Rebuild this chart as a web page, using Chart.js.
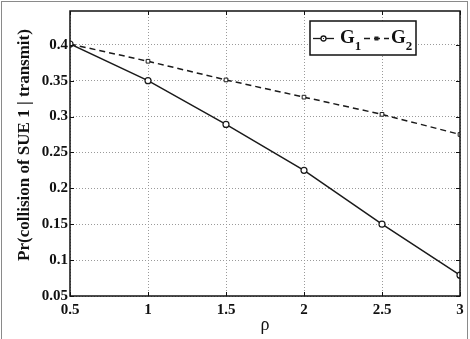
<!DOCTYPE html>
<html>
<head>
<meta charset="utf-8">
<script src="https://cdn.jsdelivr.net/npm/chart.js@4"></script>
<style>
  body { margin: 0; background: #fff; }
  #wrap { width: 470px; height: 339px; }
</style>
</head>
<body>
<div id="wrap"><canvas id="myChart" width="470" height="339"></canvas></div>
<script>
// data
const rho = [0.5, 1, 1.5, 2, 2.5, 3];
const g1 = [0.401, 0.350, 0.289, 0.225, 0.150, 0.079];
const g2 = [0.401, 0.377, 0.351, 0.327, 0.303, 0.275];
const xTicks = [0.5, 1, 1.5, 2, 2.5, 3];
const yTicks = [0.05, 0.1, 0.15, 0.2, 0.25, 0.3, 0.35, 0.4];
const seriesNames = ['G', 'G'];
const seriesSubs = ['1', '2'];
const yTitle = 'Pr(collision of SUE 1 | transmit)';

const serif = '"Liberation Serif", "DejaVu Serif", serif';

const frame = {
    id: 'frame',
    beforeDraw(chart) {
        const ctx = chart.ctx;
        ctx.save();
        ctx.fillStyle = '#fff';
        ctx.fillRect(0, 0, chart.width, chart.height);
        ctx.strokeStyle = '#8a8a8a';
        ctx.lineWidth = 1;
        ctx.strokeRect(1.5, 1.5, 466, 350);
        ctx.restore();
    },
    afterDatasetsDraw(chart) {
        const {ctx, chartArea: a, scales: {x, y}} = chart;
        ctx.save();
        ctx.strokeStyle = '#111';
        ctx.lineWidth = 1.5;
        ctx.strokeRect(a.left, a.top, a.right - a.left, a.bottom - a.top);
        ctx.lineWidth = 1;
        ctx.beginPath();
        xTicks.forEach(v => {
            const px = Math.round(x.getPixelForValue(v)) + 0.5;
            ctx.moveTo(px, a.bottom); ctx.lineTo(px, a.bottom - 4);
            ctx.moveTo(px, a.top); ctx.lineTo(px, a.top + 4);
        });
        yTicks.forEach(v => {
            const py = Math.round(y.getPixelForValue(v)) + 0.5;
            ctx.moveTo(a.left, py); ctx.lineTo(a.left + 4, py);
            ctx.moveTo(a.right, py); ctx.lineTo(a.right - 4, py);
        });
        ctx.stroke();

        // y axis title
        ctx.save();
        ctx.translate(25, 145);
        ctx.rotate(-Math.PI / 2);
        ctx.fillStyle = '#111';
        ctx.font = 'bold 17px ' + serif;
        ctx.textAlign = 'center';
        ctx.textBaseline = 'middle';
        ctx.fillText(yTitle, 0, 0);
        ctx.restore();

        // legend box
        const bx = 310, by = 21, bw = 106, bh = 34;
        ctx.fillStyle = '#fff';
        ctx.fillRect(bx, by, bw, bh);
        ctx.lineWidth = 1.5;
        ctx.strokeRect(bx, by, bw, bh);
        const ly = 38.5;
        const items = [
            {x0: 313, x1: 334, text: 340},
            {x0: 364, x1: 389, text: 391}
        ];
        chart.data.datasets.forEach((ds, i) => {
            const it = items[i];
            ctx.strokeStyle = ds.borderColor;
            ctx.lineWidth = 1.3;
            ctx.setLineDash(ds.borderDash || []);
            ctx.beginPath();
            ctx.moveTo(it.x0, ly); ctx.lineTo(it.x1, ly);
            ctx.stroke();
            ctx.setLineDash([]);
            const cx = (it.x0 + it.x1) / 2;
            if (i === 0) {
                ctx.beginPath();
                ctx.arc(cx, ly, 2.5, 0, Math.PI * 2);
                ctx.fillStyle = '#fff';
                ctx.fill();
                ctx.stroke();
                ctx.fillStyle = '#333';
                ctx.fillRect(cx - 0.5, ly - 0.5, 1, 1);
            } else {
                ctx.fillStyle = '#222';
                ctx.fillRect(cx - 2, ly - 2, 4, 4);
            }
            ctx.fillStyle = '#111';
            ctx.textBaseline = 'alphabetic';
            ctx.textAlign = 'left';
            ctx.font = 'bold 19px ' + serif;
            ctx.fillText(seriesNames[i], it.text, 43);
            const w = ctx.measureText(seriesNames[i]).width;
            ctx.font = 'bold 13px ' + serif;
            ctx.fillText(seriesSubs[i], it.text + w, 50);
        });
        ctx.restore();
    }
};

const data = {
    datasets: [{
        label: 'G1',
        data: rho.map((v, i) => ({x: v, y: g1[i]})),
        borderColor: '#1a1a1a',
        borderWidth: 1.5,
        pointStyle: 'circle',
        pointRadius: 3,
        pointBackgroundColor: '#fff',
        pointBorderColor: '#1a1a1a',
        pointBorderWidth: 1.2
    },
    {
        label: 'G2',
        data: rho.map((v, i) => ({x: v, y: g2[i]})),
        borderColor: '#1a1a1a',
        borderWidth: 1.5,
        borderDash: [6, 4],
        pointStyle: 'rect',
        pointRadius: 2.6,
        pointBackgroundColor: '#fff',
        pointBorderColor: '#1a1a1a',
        pointBorderWidth: 1
    }]
};

const config = {
    type: 'line',
    data: data,
    options: {
        responsive: false,
        animation: false,
        layout: {padding: {top: 11, right: 10, left: 0, bottom: 0}},
        plugins: {legend: {display: false}, tooltip: {enabled: false}},
        scales: {
            x: {
                type: 'linear',
                min: 0.5,
                max: 3,
                afterBuildTicks: s => { s.ticks = xTicks.map(v => ({value: v})); },
                afterFit: s => { s.height = 43; },
                ticks: {
                    color: '#111',
                    padding: 5,
                    maxRotation: 0,
                    font: {family: serif, size: 15, weight: 'bold'},
                    callback: v => String(v)
                },
                grid: {color: '#9a9a9a', lineWidth: 1, drawTicks: false},
                border: {display: false, dash: [1, 2]},
                title: {
                    display: true,
                    text: 'ρ',
                    color: '#111',
                    padding: {top: 0, bottom: 3},
                    font: {family: serif, size: 18}
                }
            },
            y: {
                type: 'linear',
                min: 0.05,
                max: 0.447,
                afterBuildTicks: s => { s.ticks = yTicks.map(v => ({value: v})); },
                afterFit: s => { s.width = 70; },
                ticks: {
                    color: '#111',
                    padding: 2,
                    font: {family: serif, size: 15, weight: 'bold'},
                    callback: v => String(+v.toFixed(2))
                },
                grid: {color: '#9a9a9a', lineWidth: 1, drawTicks: false},
                border: {display: false, dash: [1, 2]},
                title: {display: false}
            }
        }
    },
    plugins: [frame]
};

const myChart = new Chart(document.getElementById('myChart'), config);
</script>
</body>
</html>
